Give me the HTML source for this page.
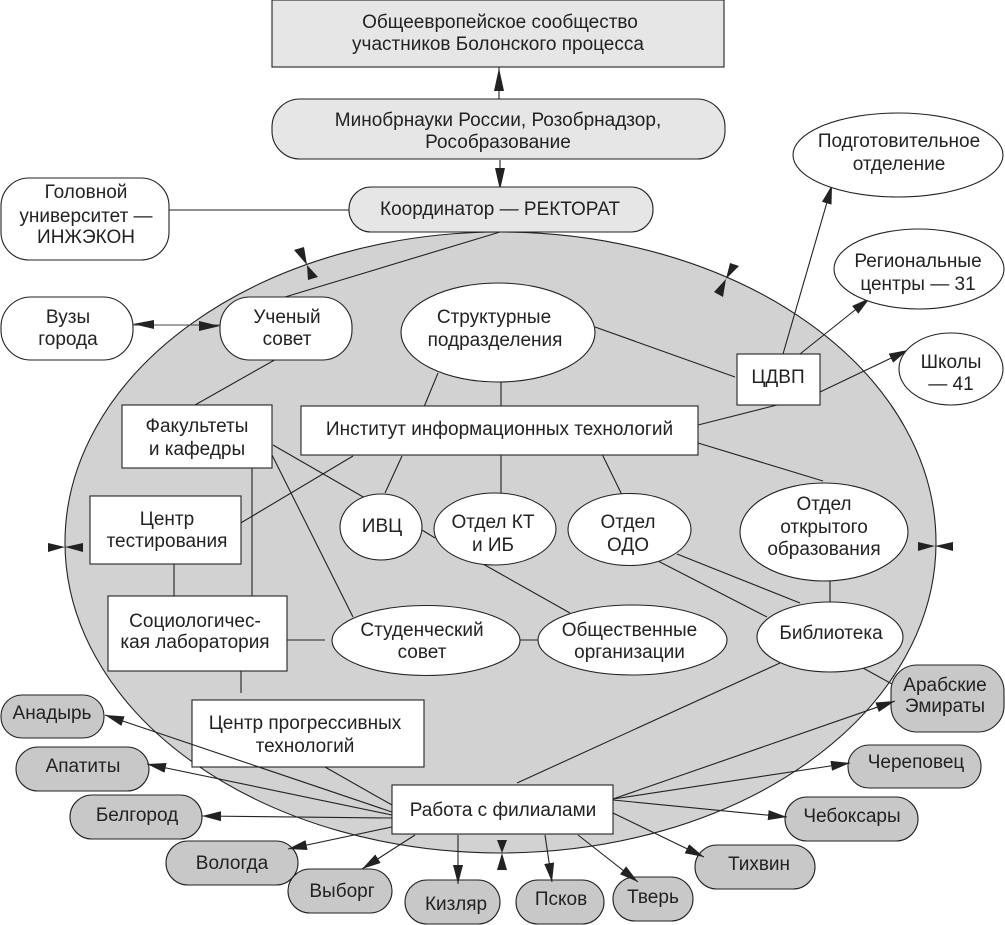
<!DOCTYPE html>
<html><head><meta charset="utf-8"><style>
html,body{margin:0;padding:0;background:#fff;width:1005px;height:925px;overflow:hidden}
svg{display:block}
text{font-family:"Liberation Sans",sans-serif;font-size:19px;fill:#222;text-anchor:middle}
.s{stroke:#222;stroke-width:1.1;fill:#fff}
.g{stroke:#222;stroke-width:1.1;fill:#c8c8c8}
.l{stroke:#222;stroke-width:1.1;fill:#e6e6e6}
.c{stroke:#222;stroke-width:1.1;fill:none}
.a{fill:#222;stroke:none}
</style></head><body>
<svg width="1005" height="925" viewBox="0 0 1005 925" xmlns="http://www.w3.org/2000/svg">
<defs>
<marker id="ar" markerUnits="userSpaceOnUse" markerWidth="20" markerHeight="12" refX="19" refY="5" orient="auto"><path d="M0 0L19 5L0 10Z" fill="#222"/></marker>
</defs>
<ellipse cx="500.5" cy="542.5" rx="435.5" ry="310.5" fill="#d2d2d2" stroke="#222" stroke-width="1.1"/>
<g class="c">
<path d="M499 67V99"/>
<path d="M500 160V188"/>
<path d="M169 210H349"/>
<path d="M500 232L285 297"/>
<path d="M133 325H220" stroke="#444"/>
<path d="M278 358L195 405"/>
<path d="M595 327L735 377"/>
<path d="M438 373L424 407M501 382V407"/>
<path d="M698 425L777 405"/>
<path d="M698 443L823 481"/>
<path d="M783 354L832 185" marker-end="url(#ar)"/>
<path d="M800 354L870 298" marker-end="url(#ar)"/>
<path d="M820 392L908 350" marker-end="url(#ar)"/>
<path d="M273 445L365 498M271 453L353 617"/>
<path d="M353 456L239 524"/>
<path d="M252 468V596"/>
<path d="M174 564V596"/>
<path d="M285 640H325M520 640H538"/>
<path d="M241 671V693"/>
<path d="M402 456L385 493M501 455V493M602 454L622 495"/>
<path d="M422 530L435 538M483 564L570 613"/>
<path d="M677 554L800 603M658 561L767 617"/>
<path d="M830 581V602"/>
<path d="M863 668L892 684"/>
<path d="M780 663L517 783"/>
</g>
<g class="a">
<path d="M499 68L504 91H494Z"/>
<path d="M500 190L505 168H495Z"/>
<path d="M133 324L154 320V329Z"/>
<path d="M220 326L199 321V331Z"/>
<path d="M307 265L294 250L304 247Z"/>
<path d="M307 265L308 280L318 277Z"/>
<path d="M726 279L730 263L739 266Z"/>
<path d="M726 279L714 292L723 297Z"/>
<path d="M65 547L48 543V552Z"/>
<path d="M65 547L83 543V552Z"/>
<path d="M935 546L918 542V551Z"/>
<path d="M935 546L953 542V551Z"/>
<path d="M502 853L497 840H507Z"/>
<path d="M502 853L497 870H507Z"/>
</g>
<rect class="l" x="272" y="0" width="452" height="67"/>
<rect class="l" x="272" y="99" width="453" height="60" rx="28"/>
<rect class="l" x="349" y="187" width="304" height="45" rx="22"/>
<rect class="s" x="1" y="178" width="168" height="82" rx="28"/>
<rect class="s" x="1" y="297" width="132" height="63" rx="30"/>
<rect class="s" x="220" y="297" width="132" height="63" rx="30"/>
<ellipse class="s" cx="498" cy="332.5" rx="97" ry="49.5"/>
<rect class="s" x="737" y="354" width="83" height="51"/>
<rect class="s" x="301" y="406" width="397" height="49"/>
<rect class="s" x="122" y="405" width="150" height="63"/>
<rect class="s" x="90" y="496" width="151" height="68"/>
<rect class="s" x="108" y="596" width="179" height="75"/>
<rect class="s" x="192" y="700" width="232" height="67"/>
<ellipse class="s" cx="381" cy="527" rx="41" ry="33"/>
<ellipse class="s" cx="495" cy="529" rx="61" ry="36"/>
<ellipse class="s" cx="629.5" cy="529.5" rx="61.5" ry="36"/>
<ellipse class="s" cx="824" cy="532" rx="84" ry="49"/>
<ellipse class="s" cx="830" cy="637" rx="73" ry="35"/>
<ellipse class="s" cx="426" cy="640.5" rx="94" ry="35"/>
<ellipse class="s" cx="632.5" cy="640" rx="94.5" ry="35"/>
<ellipse class="s" cx="898" cy="155" rx="105" ry="42"/>
<ellipse class="s" cx="919" cy="269" rx="85" ry="40"/>
<ellipse class="s" cx="951" cy="369" rx="52" ry="36"/>
<rect class="g" x="1" y="695" width="103" height="43" rx="21"/>
<rect class="g" x="16" y="747" width="133" height="44" rx="22"/>
<rect class="g" x="70" y="795" width="132" height="44" rx="22"/>
<rect class="g" x="166" y="841" width="132" height="44" rx="22"/>
<rect class="g" x="288" y="869" width="104" height="44" rx="22"/>
<rect class="g" x="405" y="880" width="95" height="44" rx="22"/>
<rect class="g" x="516" y="880" width="88" height="44" rx="22"/>
<rect class="g" x="613" y="877" width="80" height="44" rx="22"/>
<rect class="g" x="695" y="845" width="120" height="44" rx="22"/>
<rect class="g" x="785" y="797" width="133" height="44" rx="22"/>
<rect class="g" x="848" y="745" width="133" height="43" rx="21"/>
<rect class="g" x="891" y="665" width="113" height="67" rx="26"/>
<g class="c">
<path d="M325 767L392 805"/>
<path d="M392 812L105 715" marker-end="url(#ar)"/>
<path d="M392 815L147 764" marker-end="url(#ar)"/>
<path d="M392 818L202 816" marker-end="url(#ar)"/>
<path d="M392 827L288 849" marker-end="url(#ar)"/>
<path d="M415 835L362 869" marker-end="url(#ar)"/>
<path d="M458 835V884" marker-end="url(#ar)"/>
<path d="M545 835L552 882" marker-end="url(#ar)"/>
<path d="M578 835L638 882" marker-end="url(#ar)"/>
<path d="M613 813L704 857" marker-end="url(#ar)"/>
<path d="M613 800L787 817" marker-end="url(#ar)"/>
<path d="M613 799L850 763" marker-end="url(#ar)"/>
<path d="M613 799L895 701" marker-end="url(#ar)"/>
</g>
<rect class="s" x="392" y="785" width="221" height="49"/>
<text x="500" y="28">Общеевропейское сообщество</text>
<text x="498" y="50">участников Болонского процесса</text>
<text x="498" y="126">Минобрнауки России, Розобрнадзор,</text>
<text x="498" y="148">Рособразование</text>
<text x="500" y="215">Координатор — РЕКТОРАТ</text>
<text x="86" y="198">Головной</text>
<text x="86" y="222">университет —</text>
<text x="86" y="243">ИНЖЭКОН</text>
<text x="68" y="323">Вузы</text>
<text x="68" y="345">города</text>
<text x="287" y="323">Ученый</text>
<text x="287" y="345">совет</text>
<text x="494" y="323">Структурные</text>
<text x="495" y="346">подразделения</text>
<text x="778" y="383">ЦДВП</text>
<text x="499.5" y="435">Институт информационных технологий</text>
<text x="197" y="432">Факультеты</text>
<text x="197" y="455">и кафедры</text>
<text x="167" y="525">Центр</text>
<text x="167" y="547">тестирования</text>
<text x="195" y="627">Социологичес-</text>
<text x="195" y="648">кая лаборатория</text>
<text x="305" y="729">Центр прогрессивных</text>
<text x="305" y="752">технологий</text>
<text x="503" y="816">Работа с филиалами</text>
<text x="382" y="532">ИВЦ</text>
<text x="493" y="528">Отдел КТ</text>
<text x="493" y="551">и ИБ</text>
<text x="628" y="528">Отдел</text>
<text x="628" y="551">ОДО</text>
<text x="824" y="510">Отдел</text>
<text x="824" y="533">открытого</text>
<text x="824" y="555">образования</text>
<text x="831" y="639">Библиотека</text>
<text x="422" y="636">Студенческий</text>
<text x="422" y="658">совет</text>
<text x="629.5" y="636">Общественные</text>
<text x="629.5" y="658">организации</text>
<text x="899" y="147">Подготовительное</text>
<text x="899" y="170">отделение</text>
<text x="918" y="267">Региональные</text>
<text x="918" y="290">центры — 31</text>
<text x="951" y="368">Школы</text>
<text x="951" y="390">— 41</text>
<text x="52" y="719">Анадырь</text>
<text x="83" y="772">Апатиты</text>
<text x="137" y="821">Белгород</text>
<text x="232" y="869">Вологда</text>
<text x="342" y="897">Выборг</text>
<text x="456" y="910">Кизляр</text>
<text x="561" y="905">Псков</text>
<text x="653" y="903">Тверь</text>
<text x="759" y="870">Тихвин</text>
<text x="852" y="822">Чебоксары</text>
<text x="916" y="768">Череповец</text>
<text x="945" y="691">Арабские</text>
<text x="945" y="712">Эмираты</text>
</svg>
</body></html>
